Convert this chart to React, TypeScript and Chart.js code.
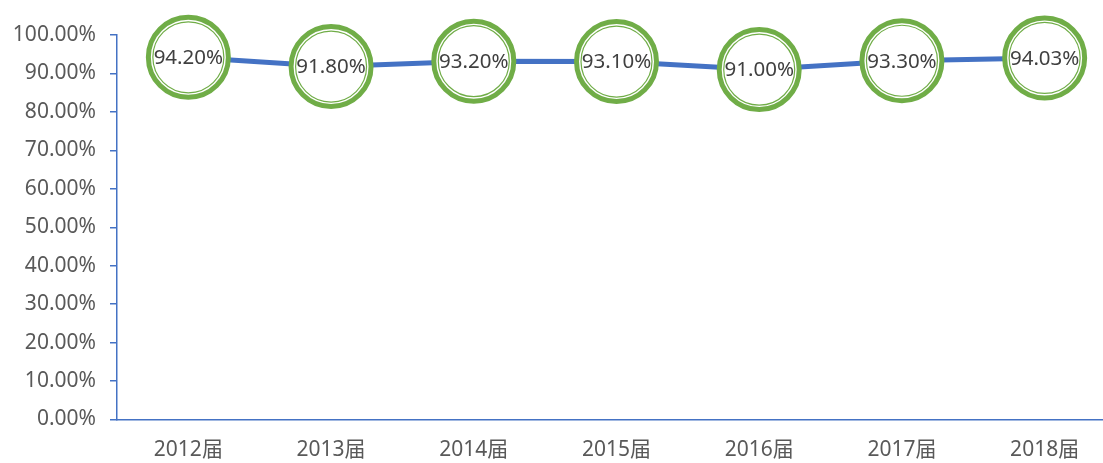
import React, { useEffect, useRef } from "react";
import { Chart, registerables } from "chart.js";

Chart.register(...registerables);

const categories = ["2012届", "2013届", "2014届", "2015届", "2016届", "2017届", "2018届"];
const values = [94.2, 91.8, 93.2, 93.1, 91.0, 93.3, 94.03];
const yTicks = [0, 10, 20, 30, 40, 50, 60, 70, 80, 90, 100];

const FONT = "'Noto Sans', 'Noto Sans CJK SC', sans-serif";

const labelPlugin = {
  id: "circleLabels",
  afterDatasetsDraw(chart: any) {
    const meta = chart.getDatasetMeta(0);
    const ctx = chart.ctx;
    ctx.save();
    ctx.font = `20.5px ${FONT}`;
    ctx.fillStyle = "#404040";
    ctx.textAlign = "center";
    ctx.textBaseline = "middle";
    meta.data.forEach((pt: any, i: number) => {
      ctx.fillText(values[i].toFixed(2) + "%", pt.x, pt.y + 1);
    });
    ctx.restore();
  },
};

export default function App() {
  const ref = useRef<HTMLCanvasElement>(null);
  useEffect(() => {
    document.body.style.margin = "0";
    const chart = new Chart(ref.current!, {
      type: "line",
      data: {
        labels: categories,
        datasets: [
          {
            data: values,
            borderColor: "#4472C4",
            borderWidth: 5,
            pointRadius: 40,
            pointHoverRadius: 40,
            pointBackgroundColor: "#FFFFFF",
            pointBorderColor: "#70AD47",
            pointBorderWidth: 5,
            clip: false as any,
            order: 2,
          },
          {
            data: values,
            showLine: false,
            pointRadius: 35.5,
            pointHoverRadius: 35.5,
            pointBackgroundColor: "rgba(0,0,0,0)",
            pointBorderColor: "#70AD47",
            pointBorderWidth: 1.2,
            clip: false as any,
            order: 1,
          },
        ],
      },
      options: {
        responsive: false,
        animation: false,
        events: [],
        layout: { autoPadding: false, padding: { top: 35, left: 0, right: 0, bottom: 0 } },
        plugins: { legend: { display: false }, tooltip: { enabled: false } },
        scales: {
          x: {
            offset: true,
            border: { display: true, color: "#4472C4", width: 1.5 },
            grid: { display: false, drawTicks: false },
            ticks: { color: "#595959", font: { family: FONT, size: 21 }, padding: 18 },
            afterFit: (s: any) => { s.height = 43.5; },
          },
          y: {
            min: 0,
            max: 100,
            afterBuildTicks: (s: any) => { s.ticks = yTicks.map((v) => ({ value: v })); },
            border: { display: true, color: "#4472C4", width: 1.5 },
            grid: { drawOnChartArea: false, drawTicks: true, tickLength: 7, color: "#4472C4", lineWidth: 1.5 },
            ticks: {
              color: "#595959",
              font: { family: FONT, size: 21 },
              padding: 14,
              callback: (v: any) => Number(v).toFixed(2) + "%",
            },
            afterFit: (s: any) => { s.width = 117; },
          },
        },
      },
      plugins: [labelPlugin],
    });
    return () => chart.destroy();
  }, []);
  return (
    <div style={{ width: 1103, height: 463, overflow: "hidden", background: "#fff" }}>
      <canvas ref={ref} width={1116} height={463} style={{ display: "block" }} />
    </div>
  );
}
